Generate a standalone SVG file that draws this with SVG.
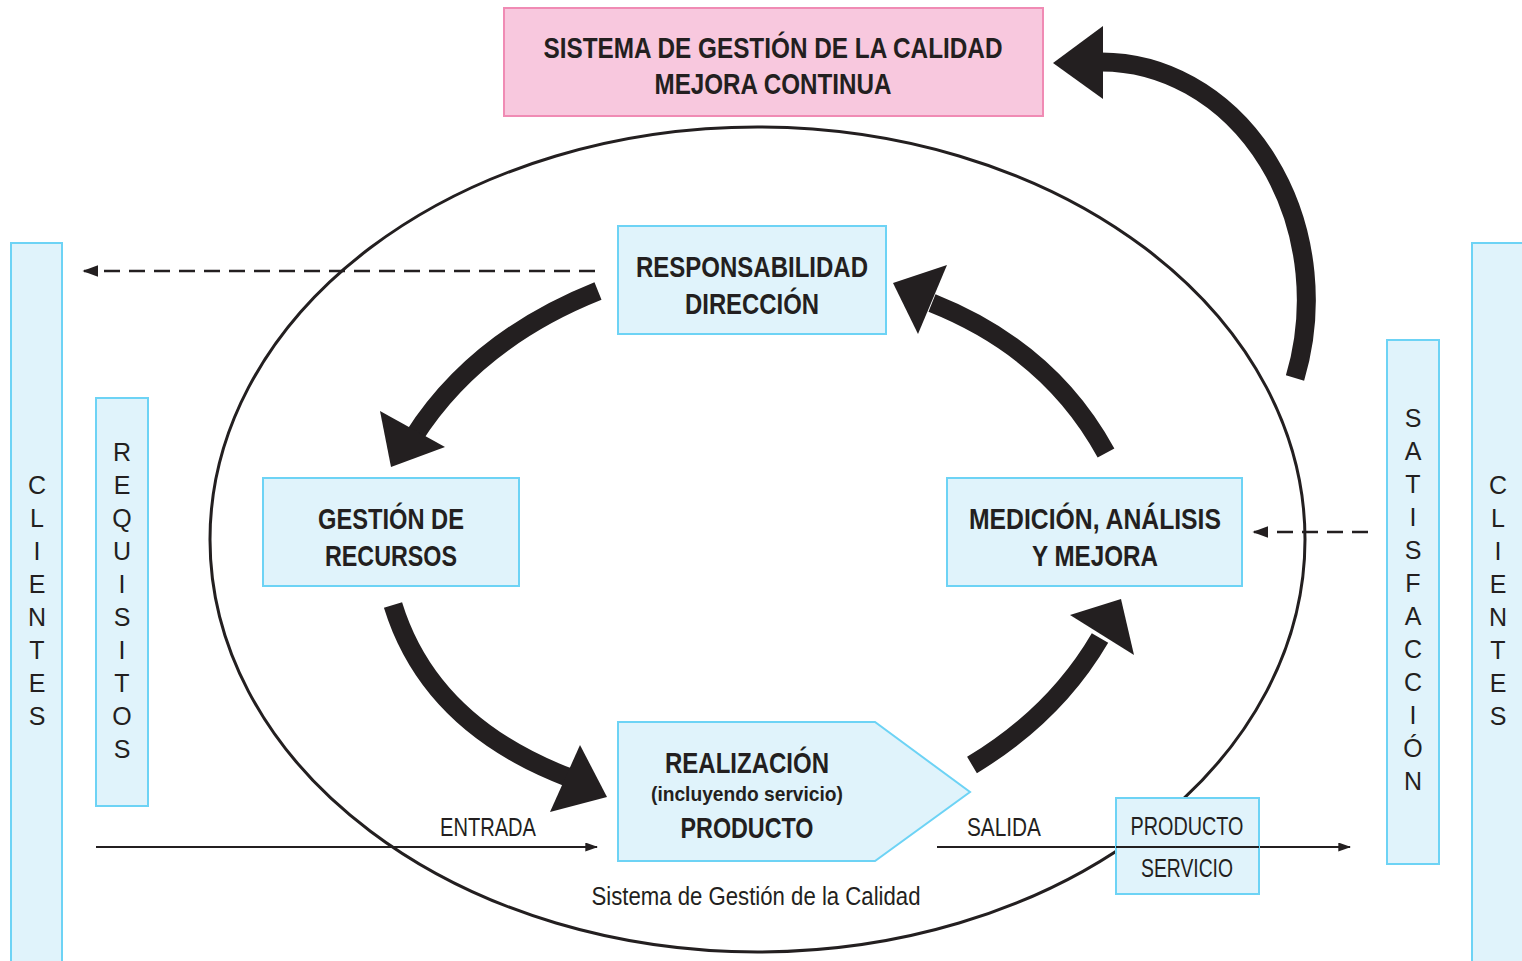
<svg xmlns="http://www.w3.org/2000/svg" width="1522" height="961" viewBox="0 0 1522 961">
<style>
.box{fill:#e0f3fb;stroke:#6dd3f5;stroke-width:2}
.pink{fill:#f8c8de;stroke:#f08bb4;stroke-width:2}
.b{font-family:"Liberation Sans Narrow","Liberation Sans",Arial,sans-serif;font-weight:bold;font-size:30px;fill:#231f20;text-anchor:middle}
.r{font-family:"Liberation Sans Narrow","Liberation Sans",Arial,sans-serif;font-size:25px;fill:#231f20;text-anchor:middle}
.v{font-family:"Liberation Sans Narrow","Liberation Sans",Arial,sans-serif;font-size:25px;fill:#231f20;text-anchor:middle}
.thick{fill:none;stroke:#231f20;stroke-width:19}
.head{fill:#231f20}
.thin{fill:none;stroke:#231f20;stroke-width:2.2}
.dash{fill:none;stroke:#231f20;stroke-width:2.5;stroke-dasharray:16 9}
</style>
<defs>
<marker id="ah" viewBox="0 0 10 10" refX="9" refY="5" markerWidth="13" markerHeight="9" markerUnits="userSpaceOnUse" orient="auto" preserveAspectRatio="none">
<path d="M0 0 L10 5 L0 10 Z" fill="#231f20"/>
</marker>
<marker id="ahd" viewBox="0 0 10 10" refX="9" refY="5" markerWidth="16" markerHeight="12" markerUnits="userSpaceOnUse" orient="auto" preserveAspectRatio="none">
<path d="M0 0 L10 5 L0 10 Z" fill="#231f20"/>
</marker>
</defs>
<rect width="1522" height="961" fill="#ffffff"/>

<g id="ellipse">
<ellipse cx="757.5" cy="539.5" rx="547.5" ry="412.5" fill="none" stroke="#231f20" stroke-width="3"/>
<text class="r" x="756" y="905" textLength="329" lengthAdjust="spacingAndGlyphs">Sistema de Gestión de la Calidad</text>
</g>

<g id="clientes-left">
<rect class="box" x="11" y="243" width="51" height="730"/>
<text class="v" x="37" y="494">C</text><text class="v" x="37" y="527">L</text><text class="v" x="37" y="560">I</text><text class="v" x="37" y="593">E</text><text class="v" x="37" y="626">N</text><text class="v" x="37" y="659">T</text><text class="v" x="37" y="692">E</text><text class="v" x="37" y="725">S</text>
</g>

<g id="requisitos">
<rect class="box" x="96" y="398" width="52" height="408"/>
<text class="v" x="122" y="461">R</text><text class="v" x="122" y="494">E</text><text class="v" x="122" y="527">Q</text><text class="v" x="122" y="560">U</text><text class="v" x="122" y="593">I</text><text class="v" x="122" y="626">S</text><text class="v" x="122" y="659">I</text><text class="v" x="122" y="692">T</text><text class="v" x="122" y="725">O</text><text class="v" x="122" y="758">S</text>
</g>

<g id="satisfaccion">
<rect class="box" x="1387" y="340" width="52" height="524"/>
<text class="v" x="1413" y="427">S</text><text class="v" x="1413" y="460">A</text><text class="v" x="1413" y="493">T</text><text class="v" x="1413" y="526">I</text><text class="v" x="1413" y="559">S</text><text class="v" x="1413" y="592">F</text><text class="v" x="1413" y="625">A</text><text class="v" x="1413" y="658">C</text><text class="v" x="1413" y="691">C</text><text class="v" x="1413" y="724">I</text><text class="v" x="1413" y="757">Ó</text><text class="v" x="1413" y="790">N</text>
</g>

<g id="clientes-right">
<rect class="box" x="1472" y="243" width="60" height="730"/>
<text class="v" x="1498" y="494">C</text><text class="v" x="1498" y="527">L</text><text class="v" x="1498" y="560">I</text><text class="v" x="1498" y="593">E</text><text class="v" x="1498" y="626">N</text><text class="v" x="1498" y="659">T</text><text class="v" x="1498" y="692">E</text><text class="v" x="1498" y="725">S</text>
</g>

<g id="connectors">
<line class="dash" x1="595" y1="271" x2="84" y2="271" marker-end="url(#ahd)"/>
<line class="dash" x1="1368" y1="532" x2="1254" y2="532" marker-end="url(#ahd)"/>
<line class="thin" x1="96" y1="847" x2="597" y2="847" marker-end="url(#ah)"/>
<line class="thin" x1="937" y1="847" x2="1350" y2="847" marker-end="url(#ah)"/>
<text class="r" x="488" y="836" textLength="96" lengthAdjust="spacingAndGlyphs">ENTRADA</text>
<text class="r" x="1004" y="836" textLength="74" lengthAdjust="spacingAndGlyphs">SALIDA</text>

<path class="thick" d="M598 291 Q475 340 413 438"/>
<polygon class="head" points="380,411 445,447 391,467"/>

<path class="thick" d="M1106 453 Q1050 350 932 303"/>
<polygon class="head" points="893,283 947,265 918,334"/>

<path class="thick" d="M393 605 Q430 725 570 778"/>
<polygon class="head" points="580,745 607,797 550,812"/>

<path class="thick" d="M972 765 Q1055 715 1100 638"/>
<polygon class="head" points="1070,615 1121,599 1134,655"/>

<path class="thick" d="M1101 62 A205 238 0 0 1 1295 378"/>
<polygon class="head" points="1053,63 1103,26 1103,99"/>
</g>

<g id="sgc-mejora">
<rect class="pink" x="504" y="8" width="539" height="108"/>
<text class="b" x="773" y="58" textLength="459" lengthAdjust="spacingAndGlyphs">SISTEMA DE GESTIÓN DE LA CALIDAD</text>
<text class="b" x="773" y="94" textLength="237" lengthAdjust="spacingAndGlyphs">MEJORA CONTINUA</text>
</g>

<g id="responsabilidad">
<rect class="box" x="618" y="226" width="268" height="108"/>
<text class="b" x="752" y="277" textLength="232" lengthAdjust="spacingAndGlyphs">RESPONSABILIDAD</text>
<text class="b" x="752" y="314" textLength="134" lengthAdjust="spacingAndGlyphs">DIRECCIÓN</text>
</g>

<g id="gestion-recursos">
<rect class="box" x="263" y="478" width="256" height="108"/>
<text class="b" x="391" y="529" textLength="146" lengthAdjust="spacingAndGlyphs">GESTIÓN DE</text>
<text class="b" x="391" y="566" textLength="132" lengthAdjust="spacingAndGlyphs">RECURSOS</text>
</g>

<g id="medicion">
<rect class="box" x="947" y="478" width="295" height="108"/>
<text class="b" x="1095" y="529" textLength="252" lengthAdjust="spacingAndGlyphs">MEDICIÓN, ANÁLISIS</text>
<text class="b" x="1095" y="566" textLength="126" lengthAdjust="spacingAndGlyphs">Y MEJORA</text>
</g>

<g id="realizacion">
<polygon class="box" points="618,722 875,722 970,792 875,861 618,861"/>
<text class="b" x="747" y="773" textLength="164" lengthAdjust="spacingAndGlyphs">REALIZACIÓN</text>
<text class="b" x="747" y="801" style="font-size:21px" textLength="192" lengthAdjust="spacingAndGlyphs">(incluyendo servicio)</text>
<text class="b" x="747" y="838" textLength="133" lengthAdjust="spacingAndGlyphs">PRODUCTO</text>
</g>

<g id="producto-servicio">
<rect class="box" x="1116" y="798" width="143" height="96"/>
<line class="thin" x1="1116" y1="847" x2="1259" y2="847"/>
<text class="r" x="1187" y="835" textLength="113" lengthAdjust="spacingAndGlyphs">PRODUCTO</text>
<text class="r" x="1187" y="877" textLength="92" lengthAdjust="spacingAndGlyphs">SERVICIO</text>
</g>
</svg>
